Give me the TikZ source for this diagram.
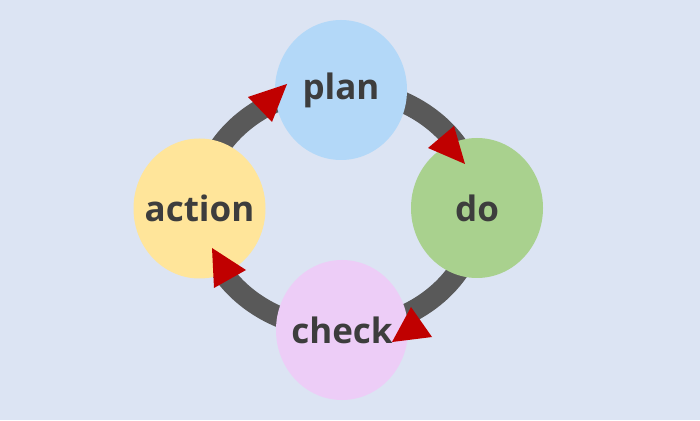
\documentclass[tikz,border=0pt]{standalone}
\usepackage{fontspec}
\setmainfont{Open Sans}
\usetikzlibrary{shapes.geometric}
\definecolor{bg}{HTML}{DCE4F3}
\definecolor{planc}{HTML}{B3D8F8}
\definecolor{doc}{HTML}{A9D18E}
\definecolor{checkc}{HTML}{EDCDF7}
\definecolor{actionc}{HTML}{FFE59A}
\definecolor{bandc}{HTML}{595959}
\definecolor{tipc}{HTML}{C00000}
\definecolor{txt}{HTML}{3D3D3D}
\tikzset{
  stage/.style={ellipse, inner sep=0pt, minimum width=132pt, minimum height=140pt,
    text=txt, font=\fontsize{35}{40}\selectfont\bfseries},
  band/.style={draw=bandc, line width=21pt},
  tiphead/.style={fill=tipc}
}
\begin{document}
\begin{tikzpicture}[x=1pt,y=1pt]
\fill[bg] (0,0) rectangle (700,420);
\useasboundingbox (0,0) rectangle (700,420);
% ring connectors
\draw[band] (200,211) arc[start angle=180, end angle=90, x radius=138pt, y radius=120pt];
\draw[band] (340,331) arc[start angle=90, end angle=0, x radius=138pt, y radius=120pt];
\draw[band] (478,211) arc[start angle=0, end angle=-90, x radius=138pt, y radius=120pt];
\draw[band] (340,91) arc[start angle=-90, end angle=-180, x radius=138pt, y radius=120pt];
% stages
\node[stage, fill=planc] (plan) at (341,330) {\makebox[0pt]{plan}};
\node[stage, fill=doc] (do) at (477,212) {\makebox[0pt]{do}};
\node[stage, fill=checkc] (check) at (342,90) {\makebox[0pt]{check}};
\node[stage, fill=actionc] (action) at (199.5,211.5) {\makebox[0pt]{action}};
% arrow heads
\fill[tiphead] (248,323) -- (287,336) -- (272,298) -- cycle;
\fill[tiphead] (428,272) -- (454,294) -- (465,256) -- cycle;
\fill[tiphead] (411,113) -- (432,83) -- (392,78) -- cycle;
\fill[tiphead] (212,172) -- (246,150) -- (214,132) -- cycle;
\end{tikzpicture}
\end{document}
